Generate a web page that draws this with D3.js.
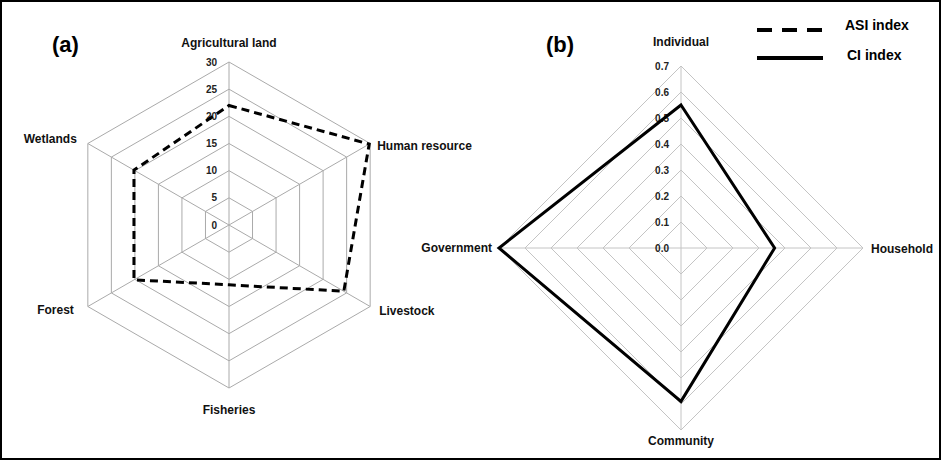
<!DOCTYPE html>
<html>
<head>
<meta charset="utf-8">
<script src="https://cdn.jsdelivr.net/npm/d3@7"></script>
<style>
  body { margin: 0; background: #fff; }
  svg { display: block; font-family: "Liberation Sans", Arial, sans-serif; }
</style>
</head>
<body>
<div id="chart"></div>
<script>
// panel (a): ASI index
const axesA = ["Agricultural land", "Human resource", "Livestock", "Fisheries", "Forest", "Wetlands"];
const asiValues = [22, 29.8, 24.4, 11, 20.2, 20.2];
const ticksA = [0, 5, 10, 15, 20, 25, 30];

// panel (b): CI index
const axesB = ["Individual", "Household", "Community", "Government"];
const ciValues = [0.55, 0.36, 0.59, 0.7];
const ticksB = [0, 0.1, 0.2, 0.3, 0.4, 0.5, 0.6, 0.7];

const legendNames = ["ASI index", "CI index"];

const width = 941, height = 460;

const svg = d3.select("#chart")
  .append("svg")
  .attr("width", width)
  .attr("height", height);

svg.append("rect")
  .attr("x", 1).attr("y", 1)
  .attr("width", width - 2).attr("height", height - 2)
  .attr("fill", "#fff")
  .attr("stroke", "#000")
  .attr("stroke-width", 2);

function radar(opts) {
  const g = svg.append("g")
    .attr("transform", `translate(${opts.cx}, ${opts.cy})`);
  const n = opts.axes.length;
  const r = d3.scaleLinear().domain([0, opts.max]).range([0, opts.radius]);
  const angle = i => i * 2 * Math.PI / n;
  const pt = (i, v) => [Math.sin(angle(i)) * r(v), -Math.cos(angle(i)) * r(v)];

  // rings
  const ring = d3.line();
  g.append("g")
    .selectAll("path")
    .data(opts.ticks.filter(t => t > 0))
    .join("path")
    .attr("d", t => ring(d3.range(n).map(i => pt(i, t))) + "Z")
    .attr("fill", "none")
    .attr("stroke", opts.gridColor)
    .attr("stroke-width", 1);

  // spokes
  g.append("g")
    .selectAll("line")
    .data(d3.range(n))
    .join("line")
    .attr("x1", 0).attr("y1", 0)
    .attr("x2", i => pt(i, opts.max)[0])
    .attr("y2", i => pt(i, opts.max)[1])
    .attr("stroke", opts.gridColor)
    .attr("stroke-width", 1);

  // tick labels
  g.append("g")
    .selectAll("text")
    .data(opts.ticks)
    .join("text")
    .attr("x", -12)
    .attr("y", t => -r(t))
    .attr("dy", "0.35em")
    .attr("text-anchor", "end")
    .attr("font-size", 10)
    .attr("font-weight", "bold")
    .attr("fill", "#222")
    .text(opts.tickFormat);

  // data polygon
  const line = d3.lineRadial()
    .angle((d, i) => angle(i))
    .radius(d => r(d))
    .curve(d3.curveLinearClosed);
  g.append("path")
    .datum(opts.values)
    .attr("d", line)
    .attr("fill", "none")
    .attr("stroke", "#000")
    .attr("stroke-width", 3)
    .attr("stroke-linejoin", "miter")
    .attr("stroke-dasharray", opts.dash);

  // axis labels
  g.append("g")
    .selectAll("text")
    .data(opts.axes)
    .join("text")
    .attr("x", (d, i) => pt(i, opts.max)[0] + opts.labelOff[i][0])
    .attr("y", (d, i) => pt(i, opts.max)[1] + opts.labelOff[i][1])
    .attr("dy", "0.35em")
    .attr("text-anchor", (d, i) => opts.labelOff[i][2])
    .attr("font-size", 12)
    .attr("font-weight", "bold")
    .attr("fill", "#111")
    .text(d => d);

  svg.append("text")
    .attr("x", opts.tag[0]).attr("y", opts.tag[1])
    .attr("font-size", 22)
    .attr("font-weight", "bold")
    .text(opts.tagText);
}

radar({
  cx: 229, cy: 225, radius: 163, max: 30,
  axes: axesA, values: asiValues, ticks: ticksA,
  tickFormat: d3.format("d"),
  gridColor: "#aaa",
  dash: "8,5",
  labelOff: [[0, -19, "middle"], [7, 2, "start"], [9, 4, "start"],
             [0, 22, "middle"], [-14, 3, "end"], [-11, -5, "end"]],
  tag: [52, 52], tagText: "(a)"
});

radar({
  cx: 681, cy: 248, radius: 182, max: 0.7,
  axes: axesB, values: ciValues, ticks: ticksB,
  tickFormat: d3.format(".1f"),
  gridColor: "#c4c4c4",
  dash: null,
  labelOff: [[0, -24, "middle"], [8, 1, "start"], [0, 11, "middle"], [-7, 0, "end"]],
  tag: [546, 52], tagText: "(b)"
});

// legend
const legend = svg.append("g");
legend.selectAll("line")
  .data(legendNames)
  .join("line")
  .attr("x1", 757).attr("x2", 823)
  .attr("y1", (d, i) => 30 + i * 28)
  .attr("y2", (d, i) => 30 + i * 28)
  .attr("stroke", "#000")
  .attr("stroke-width", 4)
  .attr("stroke-dasharray", (d, i) => i === 0 ? "15,10" : null);
legend.selectAll("text")
  .data(legendNames)
  .join("text")
  .attr("x", (d, i) => i === 0 ? 845 : 847)
  .attr("y", (d, i) => 25 + i * 30)
  .attr("dy", "0.35em")
  .attr("font-size", 14)
  .attr("font-weight", "bold")
  .text(d => d);
</script>
</body>
</html>
